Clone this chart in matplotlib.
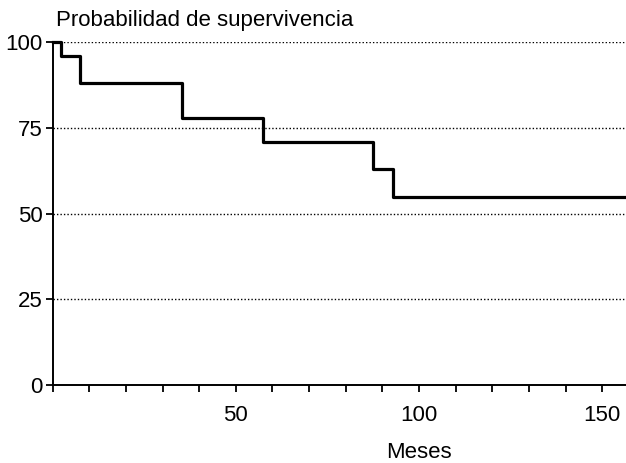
import matplotlib.pyplot as plt
import numpy as np

plt.rcParams['font.family'] = ['Liberation Sans', 'DejaVu Sans']

# Kaplan-Meier style survival curve (months, %)
tiempos = [0, 2.4, 7.5, 35.4, 57.5, 87.5, 93.0, 160]
supervivencia = [100, 96, 88, 78, 71, 63, 55, 55]

y_ticks = [0, 25, 50, 75, 100]
x_major = [50, 100, 150]
x_minor = np.arange(0, 160, 10)

fig = plt.figure(figsize=(6.26, 4.63), dpi=100)
ax = fig.add_axes([0.084, 0.168, 0.916, 0.741])

# dotted reference lines
for yv in y_ticks[1:]:
    ax.axhline(yv, color="black", linestyle=(0, (1, 1.5)), linewidth=1.0, zorder=1)

ax.step(tiempos, supervivencia, where="post", color="black", linewidth=2.3,
        clip_on=False, zorder=3)

ax.set_xlim(0, 156.5)
ax.set_ylim(0, 100)

ax.set_yticks(y_ticks)
ax.set_xticks(x_major)
ax.set_xticks(x_minor, minor=True)
ax.tick_params(axis="both", which="both", direction="out", length=5, width=1.3,
               labelsize=16, colors="black")
ax.tick_params(axis="x", which="major", pad=9)
ax.tick_params(axis="y", pad=2)

for side in ["top", "right"]:
    ax.spines[side].set_visible(False)
for side in ["left", "bottom"]:
    ax.spines[side].set_linewidth(1.4)

fig.text(0.089, 0.955, "Probabilidad de supervivencia", fontsize=16, va="center", ha="left")
fig.text(0.670, 0.022, "Meses", fontsize=16, va="center", ha="center")

plt.savefig("out.png", dpi=100)
